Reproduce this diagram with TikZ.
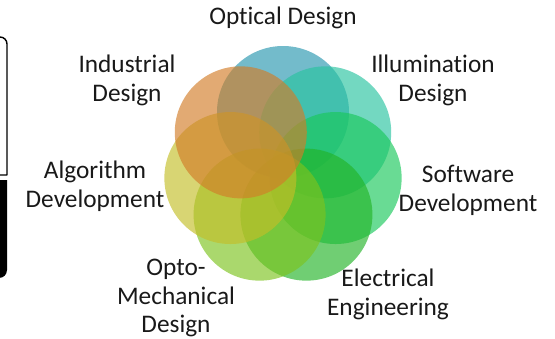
\documentclass[tikz,border=0pt]{standalone}
\usepackage{fontspec}
\setmainfont{Carlito}[Ligatures=NoCommon]
\usetikzlibrary{calc}
\definecolor{optical}{RGB}{40,150,175}
\definecolor{illum}{RGB}{40,195,160}
\definecolor{soft}{RGB}{25,200,90}
\definecolor{elec}{RGB}{35,180,40}
\definecolor{opto}{RGB}{125,195,30}
\definecolor{algo}{RGB}{195,190,40}
\definecolor{indus}{RGB}{210,125,40}
\tikzset{petal/.style={fill opacity=0.65},
	lbl/.style={align=center,text=black!90}}
\begin{document}
\begin{tikzpicture}[x=0.025cm,y=0.025cm,line join=round,font=\fontsize{18}{20.5}\selectfont]
	\useasboundingbox (0,0) rectangle (555,338);
	% boxes cut by the left edge
	\draw[line width=1pt] (-5,301)--(0,301) arc[start angle=90,end angle=0,radius=7]--(7,163)--(-5,163);
	\fill[black] (-5,158)--(7,158)--(7,68) arc[start angle=0,end angle=-90,radius=8]--(-5,60)--cycle;
	% seven circles
	\foreach \ang/\col in {90/optical,38.57/illum,-12.86/soft,-64.29/elec,-115.71/opto,-167.14/algo,141.43/indus}
		\fill[petal,\col] ($(283,172)+(\ang:54)$) circle[radius=66];
	% labels
	\node[lbl] (optical) at (283,320) {Optical Design};
	\node[lbl] (indus) at (127,257.5) {Industrial\\Design};
	\node[lbl] (illum) at (433,257.5) {Illumination\\Design};
	\node[lbl] (algo) at (95,152) {Algorithm\\Development};
	\node[lbl] (soft) at (468,148) {Software\\Development};
	\node[lbl] (opto) at (176,40) {Opto-\\Mechanical\\Design};
	\node[lbl] (elec) at (388,44) {Electrical\\Engineering};
\end{tikzpicture}
\end{document}
